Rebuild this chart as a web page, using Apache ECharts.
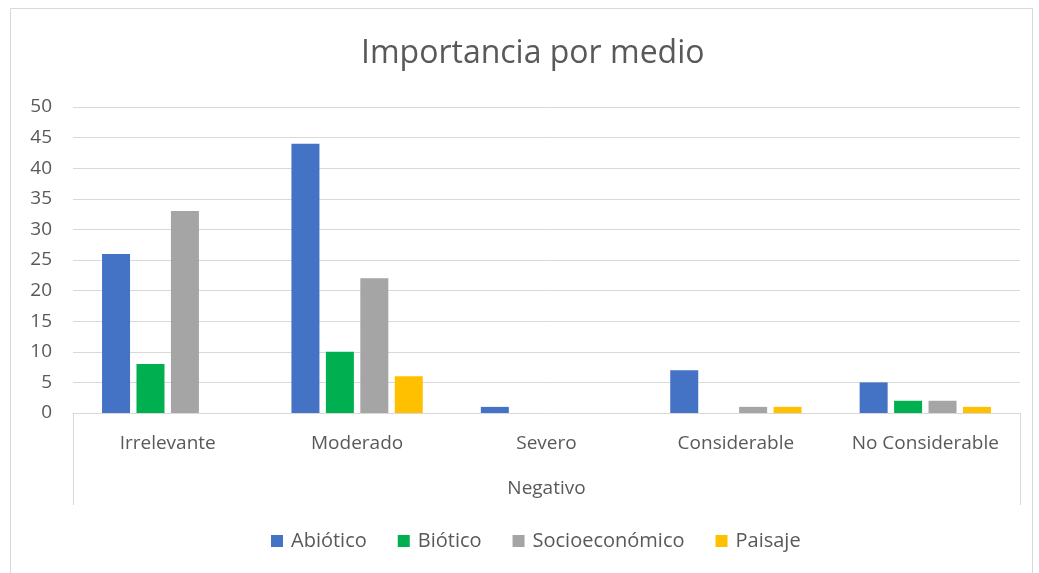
<!DOCTYPE html>
<html>
<head>
<meta charset="utf-8">
<script src="https://cdn.jsdelivr.net/npm/echarts@6/dist/echarts.min.js"></script>
<style>
  html, body { margin: 0; padding: 0; background: #fff; }
  #chart { width: 1039px; height: 573px; }
</style>
</head>
<body>
<div id="chart"></div>
<script>
const categories = ['Irrelevante', 'Moderado', 'Severo', 'Considerable', 'No Considerable'];
const groupLabel = ['Negativo'];
const abiotico = [26, 44, 1, 7, 5];
const biotico = [8, 10, 0, 0, 2];
const socioeconomico = [33, 22, 0, 1, 2];
const paisaje = [0, 6, 0, 1, 1];
const seriesNames = ['Abiótico', 'Biótico', 'Socioeconómico', 'Paisaje'];
const colors = ['#4472C4', '#00B050', '#A5A5A5', '#FFC000'];

const FONT = "'Open Sans', 'Noto Sans', sans-serif";
const TEXT = '#595959';
const LINE = '#d9d9d9';

const chart = echarts.init(document.getElementById('chart'), null, { renderer: 'canvas' });

const values = [abiotico, biotico, socioeconomico, paisaje];

chart.setOption({
  animation: false,
  color: colors,
  textStyle: { fontFamily: FONT },
  title: {
    text: 'Importancia por medio',
    left: 356,
    top: 33,
    textStyle: { fontFamily: FONT, fontSize: 32, fontWeight: 'normal', color: TEXT }
  },
  legend: {
    bottom: 17,
    left: 266,
    itemWidth: 12,
    itemHeight: 12,
    itemGap: 31,
    icon: 'rect',
    textStyle: { fontFamily: FONT, fontSize: 20, color: TEXT, padding: [0, 0, 0, 3] },
    data: seriesNames
  },
  grid: { left: 73, right: 19, top: 107, bottom: 160, containLabel: false },
  xAxis: [
    {
      type: 'category',
      data: categories,
      position: 'bottom',
      axisLine: { show: true, lineStyle: { color: LINE, width: 1 } },
      axisTick: { show: false },
      axisLabel: { interval: 0, color: TEXT, fontSize: 19, fontFamily: FONT, margin: 21 }
    },
    {
      type: 'category',
      data: groupLabel,
      position: 'bottom',
      boundaryGap: true,
      axisLine: { show: false },
      axisTick: { show: true, length: 92, lineStyle: { color: LINE, width: 1 } },
      axisLabel: { color: TEXT, fontSize: 19, fontFamily: FONT, margin: 66 }
    }
  ],
  yAxis: {
    type: 'value',
    min: 0,
    max: 50,
    interval: 5,
    axisLine: { show: false },
    axisTick: { show: false },
    splitLine: { lineStyle: { color: LINE, width: 1 } },
    axisLabel: { color: TEXT, fontSize: 19, fontFamily: FONT, margin: 21 }
  },
  graphic: [
    {
      type: 'rect',
      shape: { x: 10.5, y: 8.5, width: 1022, height: 580 },
      style: { fill: 'none', stroke: LINE, lineWidth: 1 },
      silent: true,
      z: -1
    }
  ],
  series: seriesNames.map((name, i) => ({
    name,
    type: 'bar',
    xAxisIndex: 0,
    data: values[i],
    barWidth: 28,
    barGap: '23%',
    itemStyle: { color: colors[i] }
  }))
});
</script>
</body>
</html>
